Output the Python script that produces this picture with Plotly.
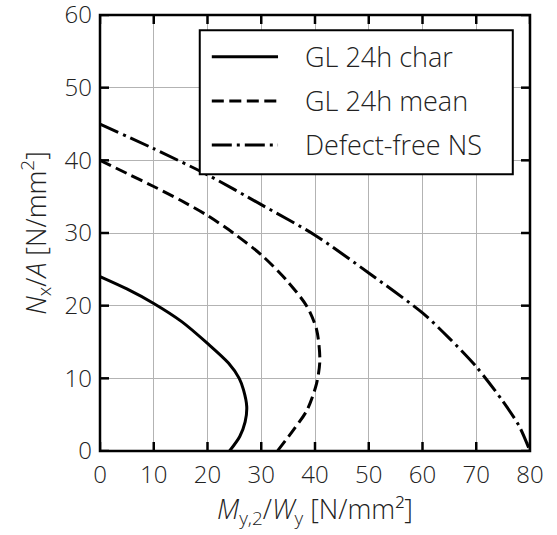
import plotly.graph_objects as go

# Interaction curves: bending stress (x) vs axial stress (y), N/mm²
char_x = [0, 5, 10, 15.2, 20, 23.9, 25.9, 26.7, 27.3, 27.0, 26.0, 24.1]
char_y = [24, 22.3, 20.3, 17.8, 14.8, 12.1, 10, 8.4, 6.1, 4, 2.0, 0]

mean_x = [0, 5, 10, 15, 20, 24.8, 30, 34.7, 38.5, 40.3, 40.9, 40.3, 38.5, 36.0, 33.0]
mean_y = [40, 38.2, 36.4, 34.5, 32.4, 30, 27, 23.5, 19.9, 16.7, 12.5, 9.3, 5.6, 2.9, 0]

ns_x = [0, 10, 20, 30, 40, 50, 60, 65, 70, 75, 78, 80]
ns_y = [45, 41.6, 38, 33.9, 29.7, 24.5, 19, 15.5, 11.6, 6.8, 3.4, 0]

series_names = ["GL 24h char", "GL 24h mean", "Defect-free NS"]
series_dash = ["solid", "12px,5.5px", "20px,5px,3px,5px"]

x_ticks = [0, 10, 20, 30, 40, 50, 60, 70, 80]
y_ticks = [0, 10, 20, 30, 40, 50, 60]

FONT = "Open Sans"
TICK_FONT = dict(family=FONT, size=24, color="#222", weight=300)
TEXT = dict(family=FONT, size=27, color="#222", weight=300)

fig = go.Figure()
for xs, ys, name, dash in zip([char_x, mean_x, ns_x], [char_y, mean_y, ns_y],
                              series_names, series_dash):
    fig.add_trace(go.Scatter(x=xs, y=ys, mode="lines", name=name,
                             line=dict(color="black", width=3, dash=dash,
                                       shape="spline", smoothing=0.8),
                             showlegend=False))

axis_common = dict(showgrid=True, gridcolor="#b3b3b3", gridwidth=1.4,
                   showline=False, ticks="", zeroline=False,
                   ticklabeloverflow="allow", automargin=False, tickfont=TICK_FONT)

fig.update_xaxes(range=[0, 80], tickvals=x_ticks, ticklabelstandoff=7, **axis_common,
                 title=dict(text="<i>M</i><sub>y,2</sub>/<i>W</i><sub>y</sub> [N/mm²]",
                            font=TEXT, standoff=4))
fig.update_yaxes(range=[0, 60], tickvals=y_ticks, ticklabelstandoff=7, **axis_common,
                 title=dict(text="<i>N</i><sub>x</sub>/<i>A</i> [N/mm<sup>2</sup>]",
                            font=TEXT, standoff=10))

# Plot frame centred on the axis edges
fig.add_shape(type="rect", xref="paper", yref="paper", x0=0, x1=1, y0=0, y1=1,
              line=dict(color="black", width=2.5), layer="above")

# Inward tick marks on all four sides
TICK_LEN_Y = 9 / 436
TICK_LEN_X = 9 / 430
for t in x_ticks:
    for y0, y1 in [(0, TICK_LEN_Y), (1 - TICK_LEN_Y, 1)]:
        fig.add_shape(type="line", xref="x", yref="paper", x0=t, x1=t, y0=y0, y1=y1,
                      line=dict(color="black", width=2.5), layer="above")
for t in y_ticks:
    for x0, x1 in [(0, TICK_LEN_X), (1 - TICK_LEN_X, 1)]:
        fig.add_shape(type="line", xref="paper", yref="y", x0=x0, x1=x1, y0=t, y1=t,
                      line=dict(color="black", width=2.5), layer="above")

# Legend box drawn in paper coordinates
lx0, lx1, ly0, ly1 = 0.232, 0.96, 0.635, 0.965
fig.add_shape(type="rect", xref="paper", yref="paper", x0=lx0, x1=lx1, y0=ly0, y1=ly1,
              line=dict(color="black", width=2), fillcolor="white", layer="above")
row_y = [0.904, 0.803, 0.702]
for name, dash, ry in zip(series_names, series_dash, row_y):
    fig.add_shape(type="line", xref="paper", yref="paper", x0=0.260, x1=0.414,
                  y0=ry, y1=ry, line=dict(color="black", width=3, dash=dash), layer="above")
    fig.add_annotation(xref="paper", yref="paper", x=0.472, y=ry, text=name,
                       showarrow=False, xanchor="left", yanchor="middle", font=TEXT)

fig.update_layout(width=557, height=535, plot_bgcolor="white", paper_bgcolor="white",
                  margin=dict(l=100, r=27, t=15, b=84))

fig.write_html("out.html")
